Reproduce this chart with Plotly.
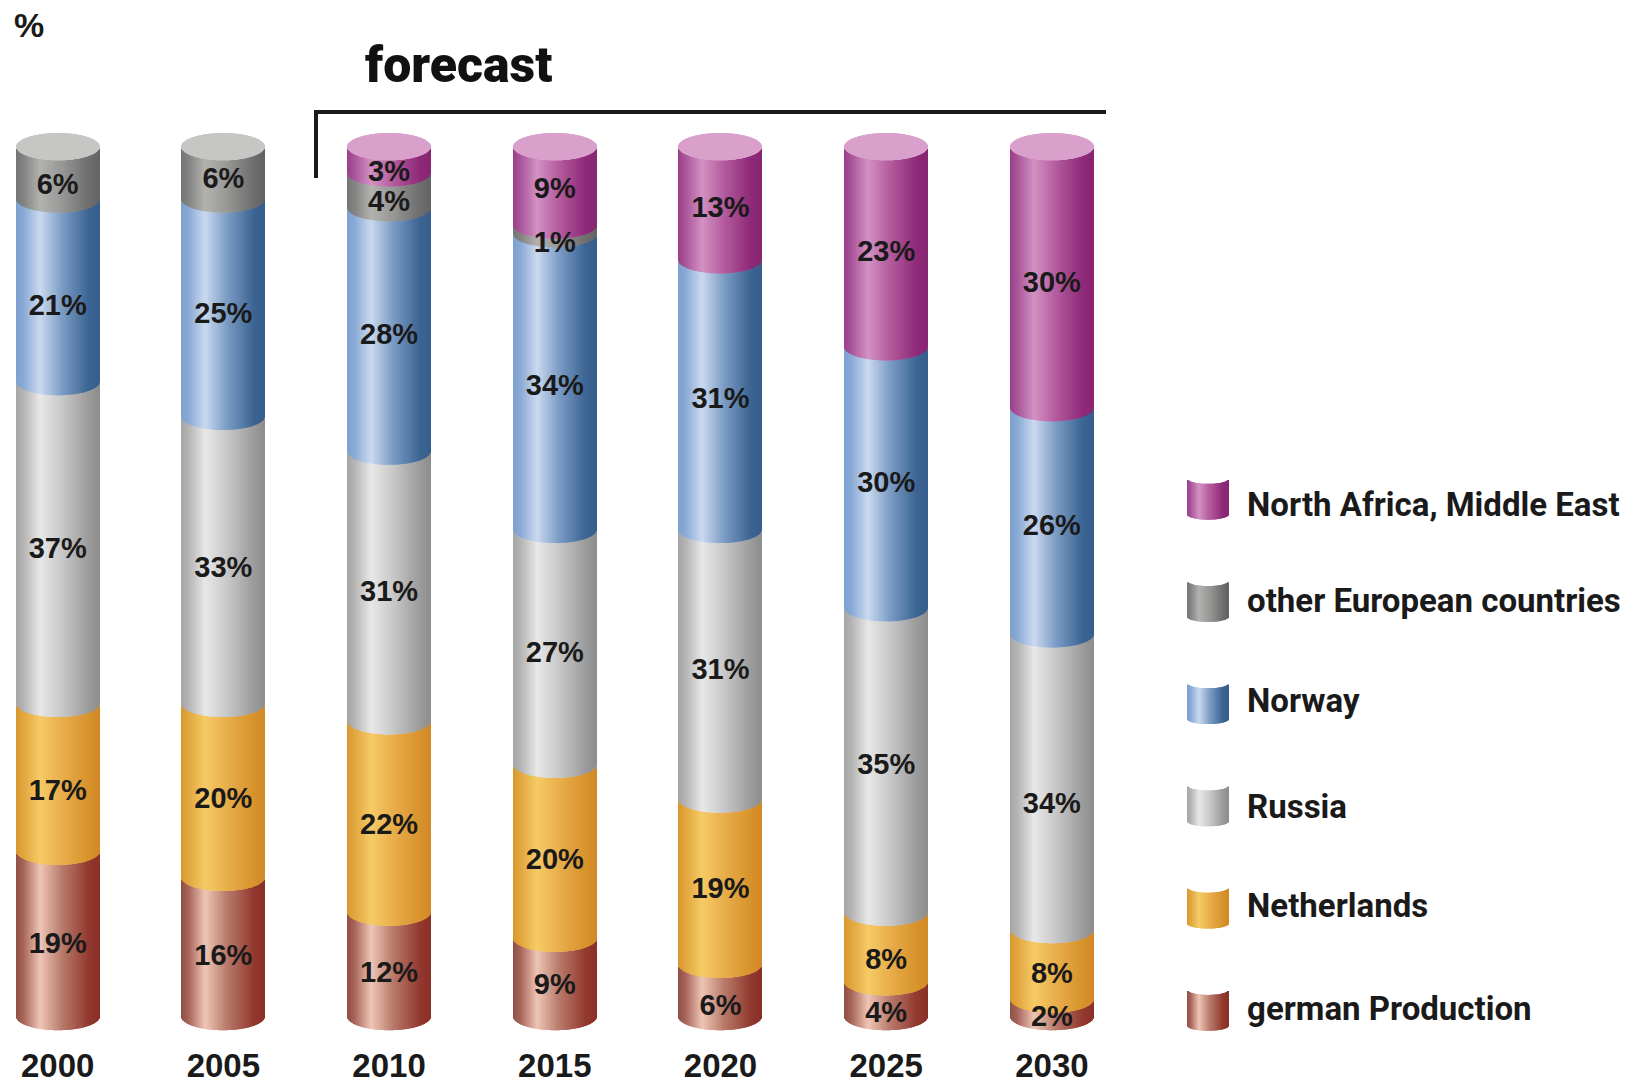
import numpy as np
import plotly.graph_objects as go

years = ["2000", "2005", "2010", "2015", "2020", "2025", "2030"]
german_production = [19, 16, 12, 9, 6, 4, 2]
netherlands = [17, 20, 22, 20, 19, 8, 8]
russia = [37, 33, 31, 27, 31, 35, 34]
norway = [21, 25, 28, 34, 31, 30, 26]
other_european = [6, 6, 4, 1, 0, 0, 0]
north_africa = [0, 0, 3, 9, 13, 23, 30]

series_names = ["german Production", "Netherlands", "Russia", "Norway",
                "other European countries", "North Africa, Middle East"]
series_values = [german_production, netherlands, russia, norway, other_european, north_africa]
# gradient stops across a cylinder: left edge, highlight, middle, right edge
stops_u = [-1.0, -0.82, -0.42, 0.1, 0.75, 1.0]
series_stops = [
    ["#8f5046", "#a8655a", "#efc6b6", "#b97c6c", "#93392f", "#8a3028"],
    ["#d9982f", "#e2a63e", "#f6cb66", "#e9af4c", "#d8932c", "#d28a28"],
    ["#a6a6a6", "#b4b4b4", "#e8e8e8", "#c9c9c9", "#9c9c9c", "#8e8e8e"],
    ["#7da0cf", "#8aaad6", "#cbdaf0", "#7d9dc5", "#3c6593", "#365f8e"],
    ["#757575", "#838381", "#b2b2b0", "#989896", "#6e6e6e", "#646464"],
    ["#9a3f88", "#a9559a", "#d392c4", "#b55c9e", "#8f2a78", "#882672"],
]
cap_colors = ["#c6c6c4", "#c6c6c4", "#d8a0cb", "#d8a0cb", "#d8a0cb", "#d8a0cb", "#d8a0cb"]

N = 83
HW = 0.2505
E = 1.57
LABEL_DROP = 1.2
# per-label downward nudges of the printed percentages (screen pixels)
label_nudges = [
    [1, 0, 0, -1, 7, 5, 0],
    [5, 0, 0, 0, -1, 4, 1],
    [-2, -1, -3, -2, -3, -3, 13],
    [7, -2, -3, -4, -4, -3, -3],
    [3, -2, 3, 5, 0, 0, 0],
    [0, 0, 3, -5, -4, -3, -3],
]
PX_PER_PCT = 8.3
us = (np.arange(N) + 0.5) / N * 2 - 1
arc = np.sqrt(1 - us ** 2)


def hexrgb(h):
    return np.array([int(h[k:k + 2], 16) for k in (1, 3, 5)], float)


def shade(stops, u):
    rgb = np.array([hexrgb(c) for c in stops])
    return "rgb(%d,%d,%d)" % tuple(np.interp(u, stops_u, rgb[:, k]) for k in range(3))


fig = go.Figure()
cum = np.zeros(len(years))
lab_x, lab_y, lab_t = [], [], []
for vals, stops, name, nudges in zip(series_values, series_stops, series_names, label_nudges):
    vals = np.array(vals, float)
    xs, bases, hs, cols = [], [], [], []
    for i in range(len(years)):
        if vals[i] == 0:
            continue
        for u, a in zip(us, arc):
            xs.append(i + u * HW)
            bases.append(cum[i] - E * a)
            hs.append(vals[i])
            cols.append(shade(stops, u))
        lab_x.append(i)
        lab_y.append(cum[i] + vals[i] / 2 - LABEL_DROP - nudges[i] / PX_PER_PCT)
        lab_t.append("<b>%d%%</b>" % vals[i])
    fig.add_trace(go.Bar(x=xs, y=hs, base=bases, width=2 * HW / N,
                         marker=dict(color=cols, line=dict(width=0)), name=name,
                         showlegend=False, hoverinfo="skip"))
    cum += vals

# top caps
xs, bases, hs, cols = [], [], [], []
for i in range(len(years)):
    for u, a in zip(us, arc):
        xs.append(i + u * HW)
        bases.append(cum[i] - E * a)
        hs.append(2 * E * a)
        cols.append(cap_colors[i])
fig.add_trace(go.Bar(x=xs, y=hs, base=bases, width=2 * HW / N,
                     marker=dict(color=cols, line=dict(width=0)),
                     showlegend=False, hoverinfo="skip"))

# legend swatches
LEG_X, LEG_HW, LEG_E, LEG_H = 6.94, 0.123, 0.573, 4.12
LEG_TOP, LEG_STEP = 57.69, 11.75
LEG_TEXT_NUDGE = [-1.0, -0.25, 0.0, -0.45, -0.1, -0.1]
leg_n = 41
leg_us = (np.arange(leg_n) + 0.5) / leg_n * 2 - 1
leg_arc = np.sqrt(1 - leg_us ** 2)
leg_tx, leg_ty, leg_names = [], [], []
for k, (name, stops) in enumerate(zip(series_names[::-1], series_stops[::-1])):
    y0 = LEG_TOP - k * LEG_STEP
    fig.add_trace(go.Bar(x=LEG_X + leg_us * LEG_HW, y=[LEG_H] * leg_n, base=y0 - LEG_E * leg_arc,
                         width=2 * LEG_HW / leg_n,
                         marker=dict(color=[shade(stops, u) for u in leg_us], line=dict(width=0)),
                         showlegend=False, hoverinfo="skip"))
    leg_tx.append(7.178)
    leg_ty.append(y0 + LEG_H / 2 - 0.3 + LEG_TEXT_NUDGE[k])
    leg_names.append("<b>%s</b>" % name)

fig.add_trace(go.Scatter(x=lab_x, y=lab_y, text=lab_t, mode="text", textposition="middle center",
                         textfont=dict(family="Liberation Sans", size=29, color="#1a1a1a"),
                         showlegend=False, hoverinfo="skip"))
fig.add_trace(go.Scatter(x=leg_tx, y=leg_ty, text=leg_names, mode="text", textposition="middle right",
                         textfont=dict(family="Roboto, Liberation Sans", size=33, color="#1a1a1a"),
                         showlegend=False, hoverinfo="skip"))

# forecast bracket
fig.add_shape(type="line", xref="paper", yref="paper", x0=316 / 1635, x1=316 / 1635,
              y0=1 - 178 / 1043, y1=1 - 112 / 1043, line=dict(color="#1a1a1a", width=4))
fig.add_shape(type="line", xref="paper", yref="paper", x0=314 / 1635, x1=1106 / 1635,
              y0=1 - 112 / 1043, y1=1 - 112 / 1043, line=dict(color="#1a1a1a", width=4))
fig.add_annotation(xref="paper", yref="paper", x=11.5 / 1635, y=1 - 25 / 1043, text="<b>%</b>", showarrow=False,
                   xanchor="left", yanchor="middle", font=dict(family="Liberation Sans", size=34, color="#1a1a1a"))
fig.add_annotation(xref="paper", yref="paper", x=363 / 1635, y=1 - 65 / 1043, text="forecast", showarrow=False,
                   xanchor="left", yanchor="middle",
                   font=dict(family="Roboto, Liberation Sans", size=50, color="#111111", weight=900))

fig.update_layout(
    width=1635, height=1083, margin=dict(l=0, r=0, t=0, b=40), barmode="overlay",
    paper_bgcolor="white", plot_bgcolor="white", showlegend=False,
    xaxis=dict(range=[-0.348, 9.519], tickmode="array", tickvals=list(range(len(years))),
               ticktext=["<b>%s</b>" % y for y in years], showgrid=False, zeroline=False, showline=False,
               ticks="", tickfont=dict(family="Liberation Sans", size=33, color="#1a1a1a")),
    yaxis=dict(range=[-3.04, 116.86], visible=False),
)
fig.write_html("out.html", config=dict(displayModeBar=False),
               post_script="document.body.style.margin='0';document.documentElement.style.overflow='hidden';")
